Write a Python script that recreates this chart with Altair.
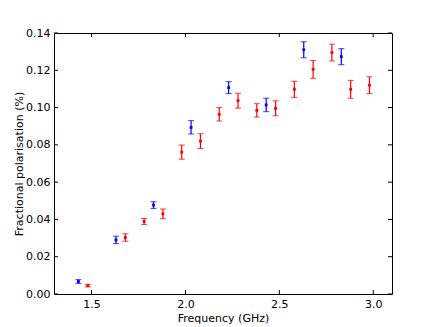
import altair as alt
import pandas as pd

blue_freq = [1.43, 1.63, 1.83, 2.03, 2.23, 2.43, 2.63, 2.83]
blue_pol = [0.0067, 0.0290, 0.0477, 0.0894, 0.1107, 0.1014, 0.1310, 0.1273]
blue_err = [0.0010, 0.0020, 0.0018, 0.0036, 0.0032, 0.0036, 0.0043, 0.0043]

red_freq = [1.48, 1.68, 1.78, 1.88, 1.98, 2.08, 2.18, 2.28, 2.38, 2.48, 2.58, 2.68, 2.78, 2.88, 2.98]
red_pol = [0.0045, 0.0303, 0.0389, 0.0430, 0.0761, 0.0820, 0.0964, 0.1037, 0.0985, 0.0996,
           0.1098, 0.1205, 0.1295, 0.1098, 0.1120]
red_err = [0.0007, 0.0020, 0.0016, 0.0026, 0.0038, 0.0040, 0.0036, 0.0040, 0.0036, 0.0040,
           0.0043, 0.0048, 0.0045, 0.0048, 0.0045]

x_ticks = [1.5, 2.0, 2.5, 3.0]
y_ticks = [0.00, 0.02, 0.04, 0.06, 0.08, 0.10, 0.12, 0.14]

rows = []
for f, p, e in zip(blue_freq, blue_pol, blue_err):
    rows.append({"freq": f, "pol": p, "lo": p - e, "hi": p + e, "set": "blue"})
for f, p, e in zip(red_freq, red_pol, red_err):
    rows.append({"freq": f, "pol": p, "lo": p - e, "hi": p + e, "set": "red"})
df = pd.DataFrame(rows)

W, H = 338, 261
FONT = "DejaVu Sans"

xs = alt.Scale(domain=[1.3, 3.1], nice=False, zero=False)
ys = alt.Scale(domain=[0.0, 0.14], nice=False, zero=False)
cs = alt.Scale(domain=["blue", "red"], range=["#0000ff", "#ff0000"])

axis_style = dict(grid=False, ticks=False, domain=False, labelPadding=4,
                  labelFont=FONT, titleFont=FONT, labelFontSize=11, titleFontSize=11,
                  labelColor="#000000", titleColor="#000000", titleFontWeight="normal",
                  labelOverlap=False)
x_axis = alt.Axis(values=x_ticks, format=".1f", title="Frequency (GHz)", titlePadding=3, **axis_style)
y_axis = alt.Axis(values=y_ticks, format=".2f", title="Fractional polarisation (%)", titlePadding=1, **axis_style)


def X(field):
    return alt.X(field, scale=xs, axis=x_axis)


def Y(field):
    return alt.Y(field, scale=ys, axis=y_axis)


col = alt.Color("set:N", scale=cs, legend=None)
base = alt.Chart(df)

bars = base.mark_rule(strokeWidth=1.2).encode(x=X("freq:Q"), y=Y("lo:Q"), y2="hi:Q", color=col)
cap_lo = base.mark_tick(orient="horizontal", size=6, thickness=1).encode(
    x=X("freq:Q"), y=Y("lo:Q"), color=col, opacity=alt.value(0.75))
cap_hi = base.mark_tick(orient="horizontal", size=6, thickness=1).encode(
    x=X("freq:Q"), y=Y("hi:Q"), color=col, opacity=alt.value(0.75))
pts = base.mark_square(size=8, opacity=1).encode(x=X("freq:Q"), y=Y("pol:Q"), color=col)

xt = pd.DataFrame({"t": x_ticks})
yt = pd.DataFrame({"t": y_ticks})
tick_style = dict(color="#000000", strokeWidth=1)
xb = alt.Chart(xt).mark_rule(**tick_style).encode(x=X("t:Q"), y=alt.value(H), y2=alt.value(H - 4))
xtop = alt.Chart(xt).mark_rule(**tick_style).encode(x=X("t:Q"), y=alt.value(0), y2=alt.value(4))
yl = alt.Chart(yt).mark_rule(**tick_style).encode(y=Y("t:Q"), x=alt.value(0), x2=alt.value(4))
yr = alt.Chart(yt).mark_rule(**tick_style).encode(y=Y("t:Q"), x=alt.value(W), x2=alt.value(W - 4))

chart = alt.layer(bars, cap_lo, cap_hi, pts, xb, xtop, yl, yr).properties(
    width=W, height=H,
    background="#ffffff",
    autosize=alt.AutoSizeParams(type="none"),
    padding={"left": 46, "top": 25, "right": 30, "bottom": 40},
).configure_view(stroke="#000000", strokeWidth=1)

chart.save("out.html", embed_options={"renderer": "svg", "actions": False})
